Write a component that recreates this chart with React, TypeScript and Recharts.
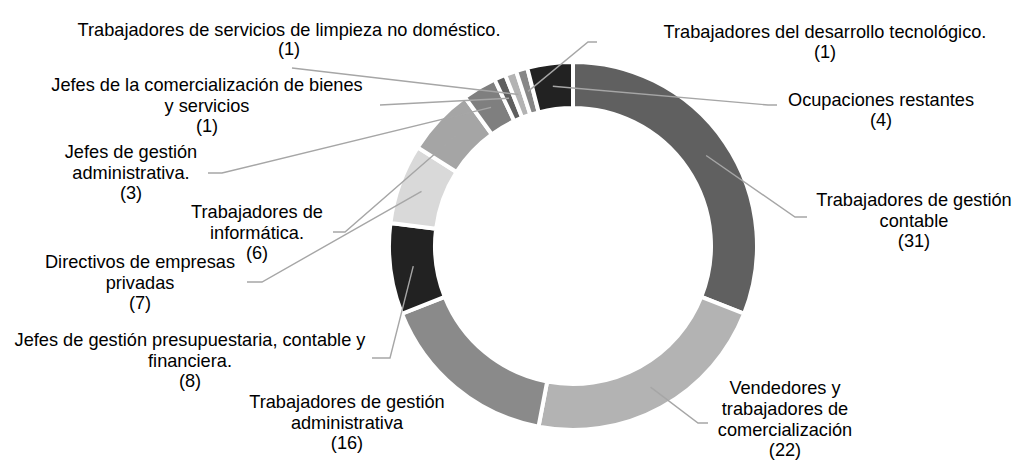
import { Cell, Pie, PieChart } from "recharts";

const ocupaciones = [
  "Trabajadores de gestión contable",
  "Vendedores y trabajadores de comercialización",
  "Trabajadores de gestión administrativa",
  "Jefes de gestión presupuestaria, contable y financiera.",
  "Directivos de empresas privadas",
  "Trabajadores de informática.",
  "Jefes de gestión administrativa.",
  "Jefes de la comercialización de bienes y servicios",
  "Trabajadores de servicios de limpieza no doméstico.",
  "Trabajadores del desarrollo tecnológico.",
  "Ocupaciones restantes",
];

const cantidades = [31, 22, 16, 8, 7, 6, 3, 1, 1, 1, 4];

// label text split into lines as in the original
const lineasEtiqueta = [
  ["Trabajadores de gestión", "contable"],
  ["Vendedores y", "trabajadores de", "comercialización"],
  ["Trabajadores de gestión", "administrativa"],
  ["Jefes de gestión presupuestaria, contable y", "financiera."],
  ["Directivos de empresas", "privadas"],
  ["Trabajadores de", "informática."],
  ["Jefes de gestión", "administrativa."],
  ["Jefes de la comercialización de bienes", "y servicios"],
  ["Trabajadores de servicios de limpieza no doméstico."],
  ["Trabajadores del desarrollo tecnológico."],
  ["Ocupaciones restantes"],
];

const colores = [
  "#606060", "#b3b3b3", "#8a8a8a", "#222222", "#d9d9d9", "#a5a5a5",
  "#7f7f7f", "#5f5f5f", "#b3b3b3", "#878787", "#222222",
];

// label placement relative to the pie centre:
// tx = text centre x, by = first baseline, (ex, ey) leader elbow, (fx, fy) leader end
const posEtiqueta = [
  { tx: 341, by: -40, ex: 222, ey: -29, fx: 234, fy: -29 },
  { tx: 212, by: 148, ex: 125, ey: 177, fx: 135, fy: 177 },
  { tx: -226, by: 162, ex: null, ey: null, fx: null, fy: null },
  { tx: -383, by: 100, ex: -183, ey: 112, fx: -201, fy: 112 },
  { tx: -433, by: 22, ex: -311, ey: 36, fx: -326, fy: 36 },
  { tx: -316, by: -28, ex: -228, ey: -14, fx: -240, fy: -14 },
  { tx: -442, by: -88, ex: -351, ey: -73, fx: -365, fy: -73 },
  { tx: -366, by: -155, ex: -193, ey: -141, fx: -193, fy: -141 },
  { tx: -284, by: -210.5, ex: -281, ey: -178, fx: -281, fy: -178 },
  { tx: 252, by: -208, ex: 15, ey: -204, fx: 24, fy: -204 },
  { tx: 308, by: -140, ex: 195, ey: -141, fx: 204, fy: -141 },
];

const data = ocupaciones.map((name, i) => ({ name, value: cantidades[i] }));

const RAD = Math.PI / 180;
const FONT = 18.2;
const LINE = 21;
const LINE_VALOR = 19.5;

function Etiqueta(props: any) {
  const { cx, cy, midAngle, innerRadius, outerRadius, index, value } = props;
  const pos = posEtiqueta[index];
  const lines = [...lineasEtiqueta[index], `(${value})`];
  const r = (innerRadius + outerRadius) / 2;
  const sx = cx + r * Math.cos(-midAngle * RAD);
  const sy = cy + r * Math.sin(-midAngle * RAD);
  return (
    <g>
      {pos.ex !== null && (
        <polyline
          points={`${sx},${sy} ${cx + pos.ex},${cy + pos.ey} ${cx + pos.fx},${cy + pos.fy}`}
          fill="none"
          stroke="#a6a6a6"
          strokeWidth={1.4}
        />
      )}
      <text
        x={cx + pos.tx}
        y={cy + pos.by}
        textAnchor="middle"
        fontFamily="'Liberation Sans', Arial, sans-serif"
        fontSize={FONT}
        fill="#000"
      >
        {lines.map((t, i) => (
          <tspan
            key={i}
            x={cx + pos.tx}
            dy={i === 0 ? 0 : i === lines.length - 1 ? LINE_VALOR : LINE}
          >
            {t}
          </tspan>
        ))}
      </text>
    </g>
  );
}

export default function App() {
  return (
    <div style={{ width: 1016, height: 460, background: "#fff" }}>
      <style>{`body{margin:0}`}</style>
      <PieChart width={1016} height={460}>
        <Pie
          data={data}
          dataKey="value"
          nameKey="name"
          cx={568}
          cy={241}
          innerRadius={138}
          outerRadius={184}
          startAngle={90}
          endAngle={-270}
          stroke="#ffffff"
          strokeWidth={4}
          label={Etiqueta}
          labelLine={false}
          isAnimationActive={false}
        >
          {data.map((d, i) => (
            <Cell key={d.name} fill={colores[i]} />
          ))}
        </Pie>
      </PieChart>
    </div>
  );
}
